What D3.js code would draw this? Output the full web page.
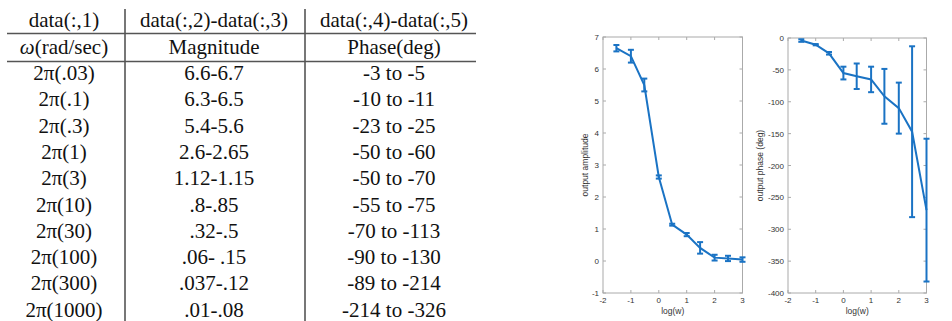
<!DOCTYPE html>
<html><head><meta charset="utf-8">
<script src="https://cdn.jsdelivr.net/npm/d3@7"></script>
<style>body{margin:0;background:#fff}svg{display:block}</style>
</head><body>
<svg id="c" width="952" height="321"></svg>
<script>
// ---- table data ----
const headerRow1 = ["data(:,1)", "data(:,2)-data(:,3)", "data(:,4)-data(:,5)"];
const headerRow2 = ["ω(rad/sec)", "Magnitude", "Phase(deg)"];
const freqLabels = ["2π(.03)","2π(.1)","2π(.3)","2π(1)","2π(3)","2π(10)","2π(30)","2π(100)","2π(300)","2π(1000)"];
const magRanges = ["6.6-6.7","6.3-6.5","5.4-5.6","2.6-2.65","1.12-1.15",".8-.85",".32-.5",".06- .15",".037-.12",".01-.08"];
const phaseRanges = ["-3 to -5","-10 to -11","-23 to -25","-50 to -60","-50 to -70","-55 to -75","-70 to -113","-90 to -130","-89 to -214","-214 to -326"];

// ---- chart data ----
const logW = [-1.52, -1, -0.52, 0, 0.48, 1, 1.48, 2, 2.48, 3];
const magMean = [6.65, 6.4, 5.5, 2.625, 1.135, 0.825, 0.41, 0.105, 0.08, 0.045];
const magErr = [0.1, 0.2, 0.2, 0.05, 0.03, 0.05, 0.18, 0.09, 0.083, 0.07];
const phaseMean = [-4, -10.5, -24, -55, -60, -65, -91.5, -110, -147, -270];
const phaseErr = [2, 1, 2, 10, 20, 20, 43, 40, 134, 112];
const xTicks = [-2, -1, 0, 1, 2, 3];
const magTicks = [-1, 0, 1, 2, 3, 4, 5, 6, 7];
const phaseTicks = [-400, -350, -300, -250, -200, -150, -100, -50, 0];

const svg = d3.select("#c");

// ---- table ----
const colX = d3.scaleOrdinal().domain([0,1,2]).range([64, 214, 394]);
const rowY = d3.scaleLinear().domain([0, 1]).range([73, 99.3]);
const tfont = "'Liberation Serif', 'DejaVu Serif', serif";
const tbl = svg.append("g").attr("font-family", tfont).attr("font-size", 21).attr("fill", "#111");
function rowText(arr, y) {
  const t = tbl.selectAll(null).data(arr).enter().append("text")
    .attr("x", (d, i) => colX(i)).attr("y", y).attr("text-anchor", "middle")
    .attr("dominant-baseline", "central");
  t.each(function(d) {
    const el = d3.select(this);
    if (d.startsWith("ω")) {
      el.append("tspan").attr("font-style", "italic").text("ω");
      el.append("tspan").text(d.slice(1));
    } else el.text(d);
  });
}
rowText(headerRow1, 20);
rowText(headerRow2, 47);
freqLabels.forEach((f, i) => rowText([f, magRanges[i], phaseRanges[i]], rowY(i)));
const lineC = "#555";
[33.5, 61.5].forEach(y => tbl.append("line").attr("x1", 7).attr("x2", 476).attr("y1", y).attr("y2", y)
  .attr("stroke", lineC).attr("stroke-width", 1.6));
[125, 305].forEach(x => tbl.append("line").attr("x1", x).attr("x2", x).attr("y1", 9).attr("y2", 321)
  .attr("stroke", lineC).attr("stroke-width", 1.6));

// ---- charts ----
const blue = "#1a73c4";
const sfont = "'Liberation Sans', Arial, Helvetica, sans-serif";
function chart(opt) {
  const {x0, x1, y0, y1, yDomain, yTicks, mean, err, ylabel, ylabelX} = opt;
  const x = d3.scaleLinear().domain([-2, 3]).range([x0, x1]);
  const y = d3.scaleLinear().domain(yDomain).range([y1, y0]);
  const g = svg.append("g").attr("font-family", sfont);
  g.append("rect").attr("x", x0).attr("y", y0).attr("width", x1 - x0).attr("height", y1 - y0)
    .attr("fill", "#fff").attr("stroke", "#aaa").attr("stroke-width", 1);
  const tl = 3;
  const ax = g.append("g").attr("stroke", "#aaa").attr("stroke-width", 1);
  xTicks.forEach(t => {
    ax.append("line").attr("x1", x(t)).attr("x2", x(t)).attr("y1", y1).attr("y2", y1 - tl);
    ax.append("line").attr("x1", x(t)).attr("x2", x(t)).attr("y1", y0).attr("y2", y0 + tl);
  });
  yTicks.forEach(t => {
    ax.append("line").attr("x1", x0).attr("x2", x0 + tl).attr("y1", y(t)).attr("y2", y(t));
    ax.append("line").attr("x1", x1).attr("x2", x1 - tl).attr("y1", y(t)).attr("y2", y(t));
  });
  g.selectAll(null).data(xTicks).enter().append("text")
    .attr("x", d => x(d)).attr("y", y1 + 10).attr("text-anchor", "middle")
    .attr("font-size", 8).attr("fill", "#333").text(d => d);
  g.selectAll(null).data(yTicks).enter().append("text")
    .attr("x", x0 - 4).attr("y", d => y(d) + 3).attr("text-anchor", "end")
    .attr("font-size", 8).attr("fill", "#333").text(d => d);
  g.append("text").attr("x", (x0 + x1) / 2).attr("y", y1 + 21).attr("text-anchor", "middle")
    .attr("font-size", 8.5).attr("fill", "#333").text("log(w)");
  g.append("text").attr("transform", `translate(${ylabelX},${(y0 + y1) / 2}) rotate(-90)`)
    .attr("text-anchor", "middle").attr("font-size", 8.5).attr("fill", "#333").text(ylabel);
  // data
  const pts = logW.map((v, i) => ({x: v, m: mean[i], e: err[i]}));
  g.append("path").datum(pts)
    .attr("d", d3.line().x(d => x(d.x)).y(d => y(d.m)))
    .attr("fill", "none").attr("stroke", blue).attr("stroke-width", 2);
  const eb = g.append("g").attr("stroke", blue).attr("stroke-width", 2);
  pts.forEach(d => {
    const cx = x(d.x), lo = y(d.m - d.e), hi = y(d.m + d.e);
    eb.append("line").attr("x1", cx).attr("x2", cx).attr("y1", lo).attr("y2", hi);
    eb.append("line").attr("x1", cx - 3).attr("x2", cx + 3).attr("y1", lo).attr("y2", lo);
    eb.append("line").attr("x1", cx - 3).attr("x2", cx + 3).attr("y1", hi).attr("y2", hi);
  });
}
chart({x0: 603, x1: 742.5, y0: 37, y1: 293, yDomain: [-1, 7], yTicks: magTicks,
  mean: magMean, err: magErr, ylabel: "output amplitude", ylabelX: 588});
chart({x0: 788, x1: 926.5, y0: 38, y1: 293, yDomain: [-400, 0], yTicks: phaseTicks,
  mean: phaseMean, err: phaseErr, ylabel: "output phase (deg)", ylabelX: 763});
</script>
</body></html>
